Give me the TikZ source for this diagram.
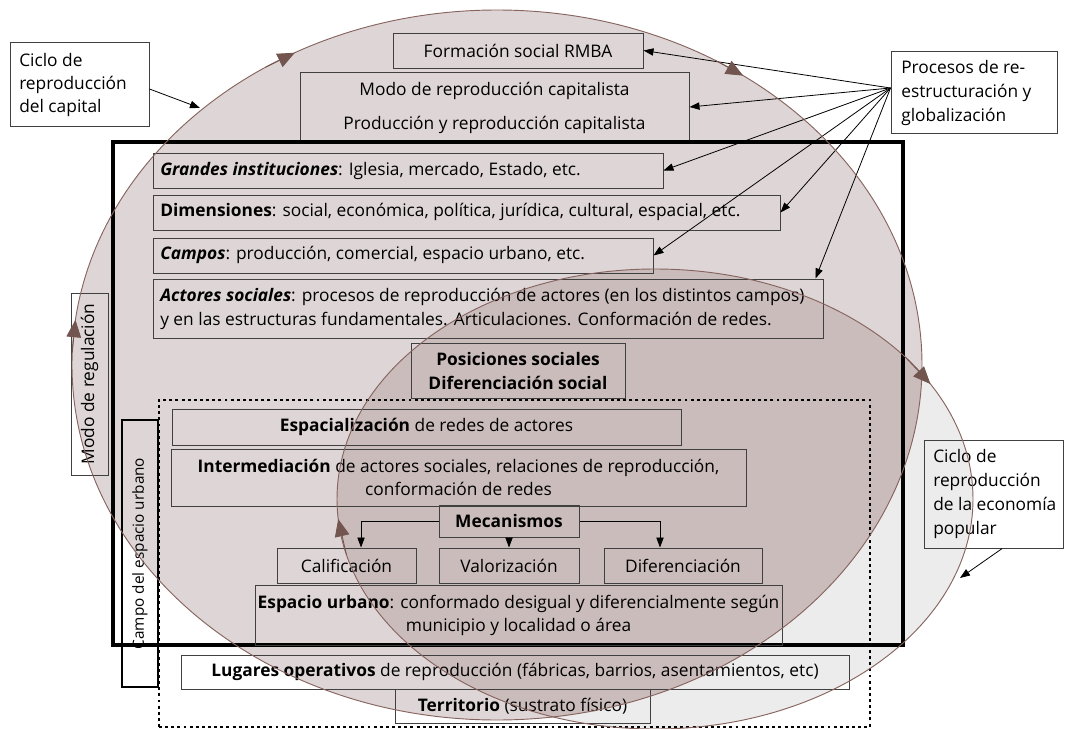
\documentclass[tikz,border=0pt]{standalone}
\usepackage{fontspec}
\setmainfont{Open Sans}
\usetikzlibrary{arrows.meta,fit,calc}
\definecolor{colA}{RGB}{222,214,214}
\definecolor{colC}{RGB}{236,236,236}
\definecolor{colAC}{RGB}{202,188,187}
\definecolor{ellc}{RGB}{135,100,95}
\definecolor{tipc}{RGB}{115,85,80}
\begin{document}
\begin{tikzpicture}[x=0.75pt,y=-0.75pt,
  every node/.style={font=\fontsize{13}{18}\selectfont},
  box/.style={draw=black!75, line width=0.75pt, inner sep=0pt},
  thickbox/.style={draw=black, line width=2.4pt, inner sep=0pt},
  dotbox/.style={draw=black, line width=2.2pt, dash pattern=on 2.2pt off 2.4pt, inner sep=0pt},
  txt/.style={inner sep=0pt, align=center},
  ltxt/.style={inner sep=0pt, align=left, anchor=west},
  parr/.style={draw=black, line width=0.6pt, -{Triangle[length=7.5pt,width=5.5pt]}},
  ellarr/.style={draw=tipc, line width=0.6pt, -{Triangle[length=13pt,width=11pt]}},
  ellline/.style={draw=ellc, line width=0.7pt},
]
\useasboundingbox (0,0) rectangle (1067,728);
% ---- ellipse fills
\fill[colA] (497,365) ellipse [x radius=318.75pt, y radius=266.25pt];
\fill[colC] (655,499) ellipse [x radius=238.5pt, y radius=172.5pt];
\begin{scope}
\clip (497,365) ellipse [x radius=318.75pt, y radius=266.25pt];
\fill[colAC] (655,499) ellipse [x radius=238.5pt, y radius=172.5pt];
\end{scope}

% ---- outer label boxes
\node[box, fit={(10,42) (149,126)}] (cap) {};
\node[ltxt, font=\fontsize{13}{17.25}\selectfont] (capt) at (19,85) {Ciclo de\\reproducción\\del capital};
\node[box, fit={(891,51) (1057,133)}] (proc) {};
\node[ltxt] (proct) at (901,93) {Procesos de re-\\estructuración y\\globalización};
\node[box, fit={(924,440) (1063,548)}] (eco) {};
\node[ltxt] (ecot) at (933,494) {Ciclo de\\reproducción\\de la economía\\popular};

% ---- top boxes
\node[box, fit={(393,33) (643,68)}] (frm) {};
\node[txt] (frmt) at (frm) {Formación social RMBA};
\node[box, fit={(300,72) (689,142)}] (mod) {};
\node[txt] (modt1) at (494.5,91) {Modo de reproducción capitalista};
\node[txt] (modt2) at (494.5,125) {Producción y reproducción capitalista};

% ---- regulation frame
\node[thickbox, fit={(113,142) (903,645)}] (reg) {};
\node[box, fit={(71,293) (108,475)}] (modreg) {};
\node[txt, rotate=90] (modregt) at (modreg) {Modo de regulación};

\node[box, fit={(153,153) (663,188)}] (gi) {};
\node[ltxt] (git) at (160,171) {\textbf{\textit{Grandes instituciones}}: Iglesia, mercado, Estado, etc.};
\node[box, fit={(153,195) (780,230)}] (dim) {};
\node[ltxt] (dimt) at (160,212) {\textbf{Dimensiones}: social, económica, política, jurídica, cultural, espacial, etc.};
\node[box, fit={(153,238) (653,273)}] (cam) {};
\node[ltxt] (camt) at (160,255) {\textbf{\textit{Campos}}: producción, comercial, espacio urbano, etc.};
\node[box, fit={(153,279) (823,338)}] (act) {};
\node[ltxt] (actt) at (160,309) {\textbf{\textit{Actores sociales}}: procesos de reproducción de actores (en los distintos campos)\\y en las estructuras fundamentales. Articulaciones. Conformación de redes.};
\node[box, fit={(411,343) (625,398)}] (pos) {};
\node[txt, font=\bfseries\fontsize{13}{18}\selectfont] (post) at (pos) {Posiciones sociales\\Diferenciación social};

% ---- urban space field
\node[dotbox, fit={(159,400) (870,727)}] (urb) {};
\node[draw=black, line width=2pt, inner sep=0pt, fit={(122,420) (158,687)}] (campo) {};
\node[txt, rotate=90, font=\fontsize{11.5}{14}\selectfont] (campot) at (campo) {Campo del espacio urbano};

\node[box, fit={(172,409) (681,445)}] (esp) {};
\node[txt] (espt) at (esp) {\textbf{Espacialización} de redes de actores};
\node[box, fit={(171,449) (746,506)}] (int) {};
\node[txt, font=\fontsize{13}{17.25}\selectfont] (intt) at (int) {\textbf{Intermediación} de actores sociales, relaciones de reproducción,\\conformación de redes};
\node[box, fit={(439,505) (579,537)}] (mec) {};
\node[txt] (mect) at (mec) {\textbf{Mecanismos}};
\node[box, fit={(277,548) (416,583)}] (cal) {};
\node[txt] (calt) at (cal) {Calificación};
\node[box, fit={(439,548) (579,583)}] (val) {};
\node[txt] (valt) at (val) {Valorización};
\node[box, fit={(604,548) (762,583)}] (dif) {};
\node[txt] (dift) at (dif) {Diferenciación};
\node[box, fit={(255,585) (782,645)}] (eu) {};
\node[txt, font=\fontsize{13}{17.25}\selectfont] (eut) at (eu) {\textbf{Espacio urbano}: conformado desigual y diferencialmente según\\municipio y localidad o área};
\node[box, fit={(181,655) (849,689)}] (lug) {};
\node[txt] (lugt) at (lug) {\textbf{Lugares operativos} de reproducción (fábricas, barrios, asentamientos, etc)};
\node[box, fit={(395,689) (650,723)}] (ter) {};
\node[txt] (tert) at (ter) {\textbf{Territorio} (sustrato físico)};

% ---- mechanism connectors
\draw[parr] (mec.west) -| ([xshift=10.9pt]cal.north);
\draw[parr] (mec.south) -- (val.north);
\draw[parr] (mec.east) -| ([xshift=-17.25pt]dif.north);

% ---- restructuring arrows
\coordinate (src) at ([yshift=3pt]proc.west);
\draw[parr] (src) -- (frm.east);
\draw[parr] (src) -- (mod.east);
\draw[parr] (src) -- (gi.east);
\draw[parr] (src) -- (dim.east);
\draw[parr] (src) -- (cam.east);
\draw[parr] (src) -- ([xshift=-6pt]act.north east);

% ---- label arrows
\coordinate (capTip) at (200,108);
\draw[parr] ([yshift=-3.75pt]cap.east) -- (capTip);
\coordinate (ecoTip) at (960,578);
\draw[parr] ([xshift=6.5pt]eco.south) -- (ecoTip);

% ---- ellipse outlines and their arrowheads
\draw[ellline] (497,365) ellipse [x radius=318.75pt, y radius=266.25pt];
\draw[ellline] (655,499) ellipse [x radius=238.5pt, y radius=172.5pt];
\draw[ellarr] ({497+425*cos(182)},{365+355*sin(182)}) -- ({497+425*cos(187.3)},{365+355*sin(187.3)});
\draw[ellarr] ({497+425*cos(237)},{365+355*sin(237)}) -- ({497+425*cos(241.6)},{365+355*sin(241.6)});
\draw[ellarr] ({497+425*cos(301)},{365+355*sin(301)}) -- ({497+425*cos(305.4)},{365+355*sin(305.4)});
\draw[ellarr] ({655+318*cos(322)},{499+230*sin(322)}) -- ({655+318*cos(330)},{499+230*sin(330)});
\draw[ellarr] ({655+318*cos(166)},{499+230*sin(166)}) -- ({655+318*cos(175)},{499+230*sin(175)});
\end{tikzpicture}
\end{document}
